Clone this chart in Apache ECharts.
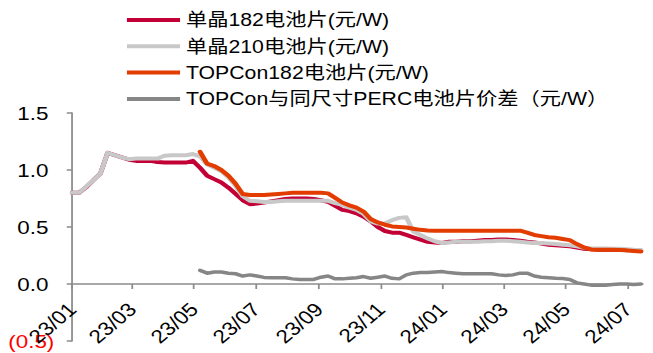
<!DOCTYPE html>
<html>
<head>
<meta charset="utf-8">
<script src="https://cdn.jsdelivr.net/npm/echarts@6/dist/echarts.min.js"></script>
<style>
  html, body { margin: 0; padding: 0; background: #fff; overflow: hidden; }
  /* the chart is laid out on a narrower canvas and stretched horizontally */
  #chart { width: 553px; height: 353px; transform: scaleX(1.18083); transform-origin: 0 0; }
</style>
</head>
<body>
<div id="chart"></div>
<script>
// Weekly observation dates
const dates = [
  '2023-01-01','2023-01-08','2023-01-15','2023-01-22','2023-01-29','2023-02-05','2023-02-12','2023-02-19','2023-02-26',
  '2023-03-05','2023-03-12','2023-03-19','2023-03-26','2023-04-02','2023-04-09','2023-04-16','2023-04-23','2023-04-30',
  '2023-05-07','2023-05-14','2023-05-21','2023-05-28','2023-06-04','2023-06-11','2023-06-18','2023-06-25','2023-07-02',
  '2023-07-09','2023-07-16','2023-07-23','2023-07-30','2023-08-06','2023-08-13','2023-08-20','2023-08-27','2023-09-03',
  '2023-09-10','2023-09-17','2023-09-24','2023-10-01','2023-10-08','2023-10-15','2023-10-22','2023-10-29','2023-11-05',
  '2023-11-12','2023-11-19','2023-11-26','2023-12-03','2023-12-10','2023-12-17','2023-12-24','2023-12-31','2024-01-07',
  '2024-01-14','2024-01-21','2024-01-28','2024-02-04','2024-02-11','2024-02-18','2024-02-25','2024-03-03','2024-03-10',
  '2024-03-17','2024-03-24','2024-03-31','2024-04-07','2024-04-14','2024-04-21','2024-04-28','2024-05-05','2024-05-12',
  '2024-05-19','2024-05-26','2024-06-02','2024-06-09','2024-06-16','2024-06-23','2024-06-30','2024-07-07','2024-07-14'
];

// 单晶182电池片 (元/W)
const mono182 = [
  0.80,0.80,0.85,0.91,0.97,1.15,1.13,1.11,1.09,
  1.08,1.08,1.08,1.07,1.065,1.065,1.065,1.065,1.08,
  1.02,0.95,0.92,0.89,0.845,0.79,0.735,0.70,0.705,
  0.715,0.725,0.735,0.745,0.75,0.75,0.75,0.745,0.735,
  0.72,0.685,0.65,0.64,0.62,0.59,0.55,0.50,0.465,
  0.45,0.45,0.43,0.41,0.39,0.37,0.365,0.36,0.37,
  0.37,0.375,0.375,0.38,0.385,0.385,0.39,0.39,0.385,
  0.38,0.37,0.365,0.355,0.345,0.34,0.335,0.33,0.32,
  0.31,0.305,0.30,0.30,0.30,0.30,0.295,0.295,0.29
];

// 单晶210电池片 (元/W)
const mono210 = [
  0.80,0.80,0.855,0.91,0.97,1.15,1.13,1.11,1.095,
  1.10,1.10,1.10,1.10,1.125,1.13,1.13,1.13,1.14,
  1.12,1.05,1.02,0.99,0.935,0.86,0.77,0.73,0.725,
  0.72,0.72,0.725,0.73,0.73,0.73,0.73,0.73,0.73,
  0.73,0.71,0.695,0.67,0.65,0.615,0.55,0.53,0.53,
  0.56,0.58,0.585,0.46,0.43,0.40,0.375,0.36,0.365,
  0.37,0.37,0.37,0.37,0.375,0.375,0.38,0.38,0.375,
  0.37,0.365,0.36,0.36,0.355,0.35,0.345,0.34,0.33,
  0.318,0.312,0.312,0.312,0.31,0.31,0.305,0.30,0.298
];

// TOPCon series begin with the week of 2023-05-07
const topconStart = 18;

// TOPCon182电池片 (元/W)
const topcon182 = [
  1.16,1.055,1.035,1.00,0.95,0.88,0.79,0.78,0.78,
  0.78,0.785,0.79,0.795,0.80,0.80,0.80,0.80,0.80,
  0.795,0.755,0.715,0.69,0.67,0.635,0.57,0.54,0.52,
  0.505,0.50,0.495,0.485,0.475,0.47,0.468,0.468,0.468,
  0.468,0.468,0.468,0.468,0.468,0.468,0.468,0.468,0.468,
  0.468,0.45,0.43,0.42,0.41,0.405,0.395,0.385,0.35,
  0.32,0.303,0.30,0.30,0.30,0.298,0.295,0.29,0.285
];

// TOPCon与同尺寸PERC电池片价差 (元/W)
const spread = [
  0.12,0.095,0.105,0.105,0.095,0.09,0.07,0.08,0.07,
  0.058,0.055,0.055,0.055,0.045,0.04,0.04,0.04,0.06,
  0.07,0.045,0.045,0.05,0.055,0.065,0.05,0.06,0.07,
  0.05,0.045,0.08,0.095,0.10,0.10,0.105,0.11,0.10,
  0.095,0.09,0.09,0.09,0.09,0.09,0.08,0.075,0.08,
  0.095,0.095,0.07,0.06,0.055,0.05,0.048,0.04,0.01,
  0.0,-0.01,-0.01,-0.01,-0.005,0.0,0.0,-0.005,0.0
];

const seriesNames = [
  '单晶182电池片(元/W)',
  '单晶210电池片(元/W)',
  'TOPCon182电池片(元/W)',
  'TOPCon与同尺寸PERC电池片价差（元/W）'
];
const seriesColors = ['#C20036', '#C8C8C8', '#E23C00', '#868686'];

// y range of the value axis
const yMin = -0.5;
const yMax = 1.5;
const yStep = 0.5;

// Daily category axis from the first observation to the axis end
const axisStart = '2023-01-01';
const axisEnd = '2024-07-16';
const days = [];
(function () {
  const d = new Date(axisStart + 'T00:00:00Z');
  const end = new Date(axisEnd + 'T00:00:00Z');
  while (d <= end) {
    days.push(d.toISOString().slice(0, 10));
    d.setUTCDate(d.getUTCDate() + 1);
  }
})();

// ticks and labels on the first day of every odd month
function oddMonthStart(index, value) {
  return value.slice(8) === '01' && parseInt(value.slice(5, 7), 10) % 2 === 1;
}

const pair = (ds, vs) => vs.map((v, i) => [ds[i], v]);
const topconDates = dates.slice(topconStart);

const FONT = '"Liberation Sans", Arial, "Noto Sans CJK SC", sans-serif';
const AXIS_GREY = '#8C8C8C';

// grid box
const GRID_TOP = 113;
const GRID_BOTTOM = 12;
const PLOT_H = 353 - GRID_TOP - GRID_BOTTOM;
// the category axis sits on the zero line: lift it from the grid bottom
const zeroLift = PLOT_H * (0 - yMin) / (yMax - yMin);

const chart = echarts.init(document.getElementById('chart'), null, { renderer: 'svg' });

const dataSets = [
  pair(dates, mono182),
  pair(dates, mono210),
  pair(topconDates, topcon182),
  pair(topconDates, spread)
];

chart.setOption({
  animation: false,
  backgroundColor: '#fff',
  textStyle: { fontFamily: FONT },
  legend: {
    orient: 'vertical',
    left: 107.5,
    top: 10,
    padding: 0,
    itemWidth: 45,
    itemHeight: 4,
    itemGap: 6.3,
    icon: 'rect',
    textStyle: { fontSize: 18, lineHeight: 20, color: '#000', fontFamily: FONT },
    data: seriesNames
  },
  grid: { left: 61, right: 8.5, top: GRID_TOP, bottom: GRID_BOTTOM, containLabel: false, outerBoundsMode: 'none' },
  xAxis: {
    type: 'category',
    data: days,
    boundaryGap: false,
    position: 'bottom',
    offset: -zeroLift,
    axisLine: { onZero: false, lineStyle: { color: AXIS_GREY, width: 1.5 } },
    axisTick: { show: true, interval: oddMonthStart, length: 5, lineStyle: { color: AXIS_GREY, width: 1.5 } },
    axisLabel: {
      interval: oddMonthStart,
      rotate: 45,
      margin: 22,
      fontSize: 19,
      color: '#000',
      fontFamily: FONT,
      formatter: v => v.slice(2, 4) + '/' + v.slice(5, 7)
    },
    splitLine: { show: false }
  },
  yAxis: {
    type: 'value',
    min: yMin,
    max: yMax,
    interval: yStep,
    axisLine: { show: true, lineStyle: { color: AXIS_GREY, width: 1.5 } },
    axisTick: { show: true, length: 4.5, lineStyle: { color: AXIS_GREY, width: 1.5 } },
    splitLine: { show: false },
    axisLabel: {
      margin: 15,
      fontSize: 19,
      color: '#000',
      fontFamily: FONT,
      formatter: v => v < 0
        ? '{n|(' + Math.abs(v).toFixed(1) + ')}'
        : '{p|' + v.toFixed(1) + '}',
      rich: {
        n: { color: '#FF0000', fontSize: 19, fontFamily: FONT },
        p: { color: '#000', fontSize: 19, fontFamily: FONT, padding: [0, 5, 0, 0] }
      }
    }
  },
  series: seriesNames.map((name, i) => ({
    name: name,
    type: 'line',
    data: dataSets[i],
    showSymbol: false,
    symbol: 'none',
    smooth: false,
    color: seriesColors[i],
    lineStyle: { width: i === 3 ? 3.5 : 4, color: seriesColors[i], cap: 'round', join: 'round' }
  }))
});
</script>
</body>
</html>
